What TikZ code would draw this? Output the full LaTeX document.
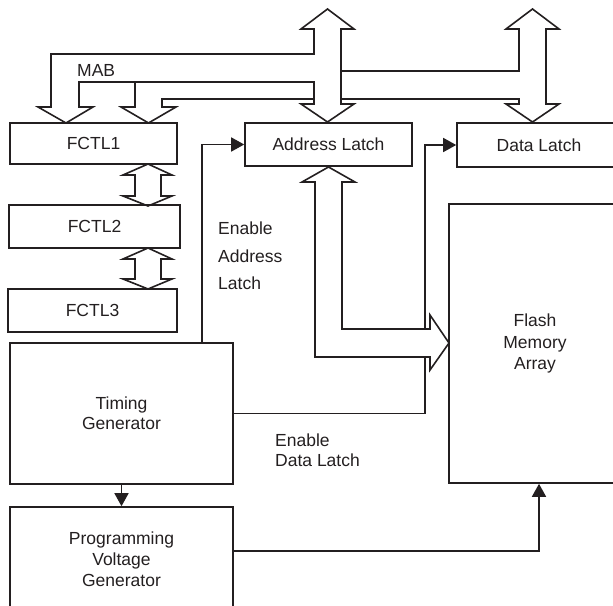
\documentclass[tikz,border=0pt]{standalone}
\usepackage{fontspec}
\setmainfont{Liberation Sans}
\usepackage{tikz}
\usetikzlibrary{arrows.meta, positioning}

\definecolor{ink}{RGB}{35,31,32}

\tikzset{
  blk/.style={draw, line width=1.6pt, inner sep=0pt, align=center},
  sig/.style={line width=1.6pt, -{Triangle[length=13pt, width=14pt]}},
  bus/.style={line width=1.6pt, line join=miter},
}

\begin{document}
\begin{tikzpicture}[x=1pt, y=-1pt, color=ink, font=\fontsize{17.5}{21}\selectfont]
  \useasboundingbox (0,0) rectangle (613,605);
  \clip (0,0) rectangle (613,605);

  % Blocks
  \node[blk, minimum width=167, minimum height=41] (fctl1) at (93.5,143.5) {FCTL1};
  \node[blk, minimum width=171, minimum height=43] (fctl2) at (94.5,226.5) {FCTL2};
  \node[blk, minimum width=169, minimum height=43] (fctl3) at (92.5,310.5) {FCTL3};
  \node[blk, minimum width=223, minimum height=141, font=\fontsize{17.5}{20}\selectfont] (timing) at (121.5,413.5) {Timing\\Generator};
  \node[blk, minimum width=223, minimum height=104] (progv) at (121.5,559) {Programming\\Voltage\\Generator};
  \node[blk, minimum width=167, minimum height=43] (addr) at (328.5,144.5) {Address Latch};
  \node[blk, minimum width=164, minimum height=44] (data) at (539,145) {Data Latch};
  \node[blk, minimum width=172, minimum height=279, font=\fontsize{17.5}{21.5}\selectfont] (flash) at (535,343.5) {Flash\\Memory\\Array};

  % Labels
  \node[anchor=west, inner sep=0pt] (mab) at (77,70) {MAB};
  \node[anchor=west, inner sep=0pt, align=left, font=\fontsize{17.5}{27.5}\selectfont] (eal) at (218,256) {Enable\\Address\\Latch};
  \node[anchor=west, inner sep=0pt, align=left, font=\fontsize{17.5}{20}\selectfont] (edl) at (275,450) {Enable\\Data Latch};

  % MAB bus to FCTL1 and Address Latch
  \draw[bus] (314,54) -- (314,29) -- (301,29) -- (327.5,9) -- (354,29) -- (341,29)
    -- (341,104) -- (354,104) -- (327.5,122) -- (301,104) -- (314,104) -- (314,82)
    -- (79,82) -- (79,107) -- (93,107) -- (66,123) -- (38,107) -- (51,107)
    -- (51,54) -- cycle;
  \draw[bus] (135,82) -- (135,107) -- (121,107) -- (148.5,123) -- (176,107)
    -- (162,107) -- (162,99) -- (314,99);

  % Data bus to Data Latch
  \draw[bus] (341,71) -- (519,71) -- (519,29) -- (506,29) -- (532.5,9) -- (559,29)
    -- (546,29) -- (546,104) -- (559,104) -- (532.5,122) -- (506,104) -- (519,104)
    -- (519,99) -- (341,99);

  % FCTL1 <-> FCTL2 <-> FCTL3
  \foreach \ya/\yb in {164/206, 248/289} {
    \draw[bus] (148,\ya) -- (172,\ya+11) -- (161,\ya+11) -- (161,\yb-10)
      -- (172,\yb-10) -- (148,\yb) -- (123,\yb-10) -- (135,\yb-10)
      -- (135,\ya+11) -- (123,\ya+11) -- cycle;
  }

  % Address Latch -> Flash Memory Array
  \draw[bus] (315,182) -- (302,182) -- (328.5,167) -- (355,182) -- (342,182)
    -- (342,329) -- (430,329) -- (430,315) -- (449,343) -- (430,370)
    -- (430,357) -- (315,357) -- cycle;

  % Control signals
  \coordinate (ea) at (202,0);
  \coordinate (ed) at (425,0);
  \coordinate (pv) at (0,551);
  \draw[sig] (ea |- timing.north) |- (addr.west);
  \draw[line width=1.6pt] (timing.east) -| (ed |- 0,357);
  \draw[sig] (ed |- 0,329) |- (data.west);
  \draw[sig] (timing.south) -- (progv.north);
  \draw[sig] (progv.east |- pv) -| (flash.south -| 539,0);

\end{tikzpicture}
\end{document}
